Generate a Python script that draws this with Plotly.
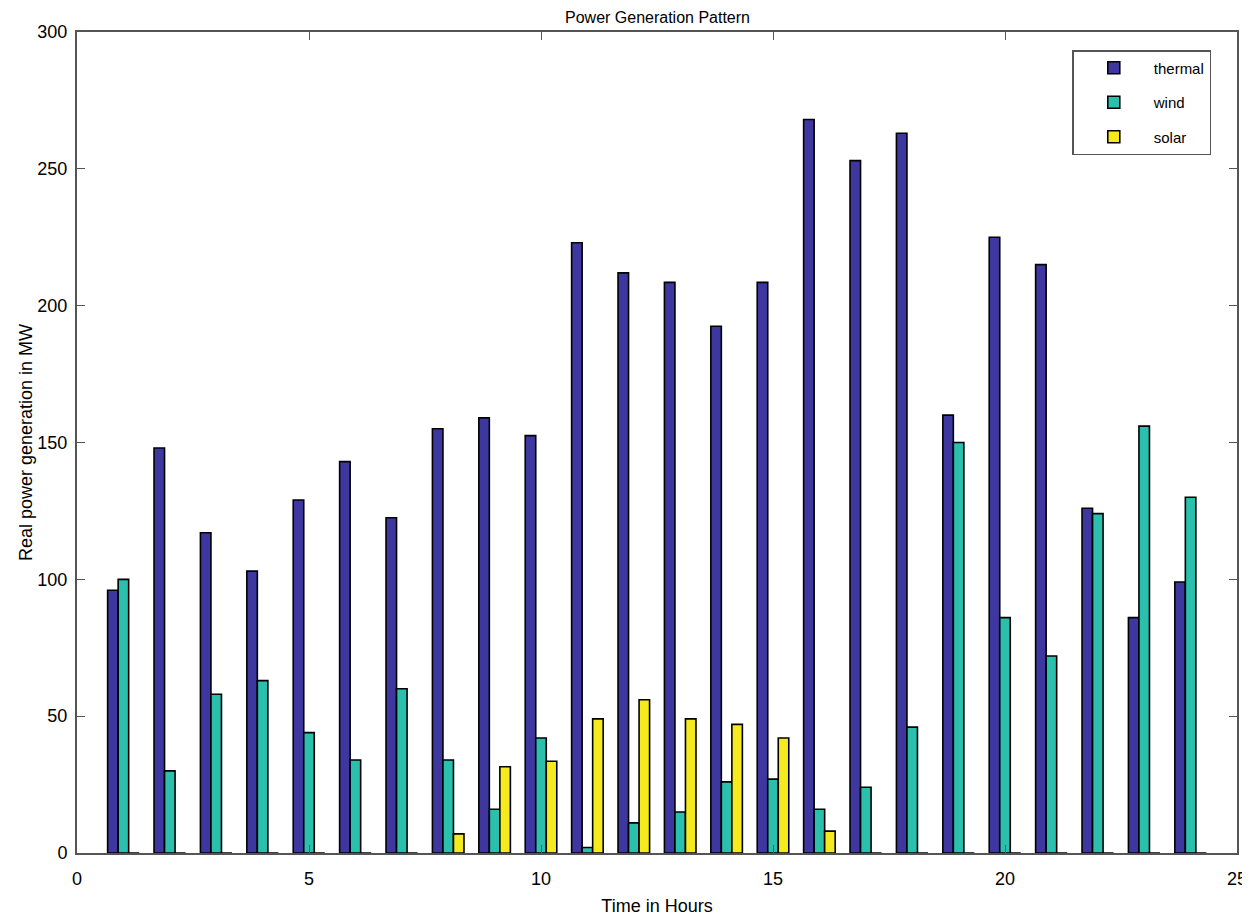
import plotly.graph_objects as go

hours = list(range(1, 25))
thermal = [96, 148, 117, 103, 129, 143, 122.5, 155, 159, 152.5, 223, 212,
           208.5, 192.5, 208.5, 268, 253, 263, 160, 225, 215, 126, 86, 99]
wind = [100, 30, 58, 63, 44, 34, 60, 34, 16, 42, 2, 11,
        15, 26, 27, 16, 24, 46, 150, 86, 72, 124, 156, 130]
solar = [0, 0, 0, 0, 0, 0, 0, 7, 31.5, 33.5, 49, 56,
         49, 47, 42, 8, 0, 0, 0, 0, 0, 0, 0, 0]

series = [("thermal", thermal, "#3f37a0"),
          ("wind", wind, "#2bbfae"),
          ("solar", solar, "#f4ea1e")]

fig = go.Figure()
for name, vals, col in series:
    fig.add_trace(go.Bar(x=hours, y=vals, name=name, legendgroup=name,
                         marker=dict(color=col, line=dict(color="black", width=1.6))))

font = "Liberation Sans Narrow, Liberation Sans, Arial, sans-serif"
W, H = 1242, 908
fig.update_layout(
    width=W, height=H,
    paper_bgcolor="white", plot_bgcolor="white",
    margin=dict(l=69, r=13, t=24, b=H - 845, autoexpand=False),
    barmode="group", bargap=0.32, bargroupgap=0,
    font=dict(family=font, color="black", size=18),
    title=dict(text="Power Generation Pattern", x=(0.5 * (77 + 1238) - 8) / W,
               xanchor="center", y=1 - 9 / H, yanchor="middle",
               font=dict(size=16, family=font)),
    showlegend=True,
    legend=dict(x=0.858, y=1 - 18 / 821, xanchor="left", yanchor="top",
                bgcolor="white", bordercolor="#555", borderwidth=1.5,
                font=dict(size=15, family=font), tracegroupgap=12,
                traceorder="grouped", itemwidth=70),
    xaxis=dict(range=[0, 25], tickvals=[0, 5, 10, 15, 20, 25], ticks="inside",
               ticklen=8, tickcolor="#555", showline=True, linecolor="#555",
               linewidth=2, mirror="ticks", showgrid=False, zeroline=False,
               ticklabelstandoff=8, ticklabeloverflow="allow",
               title=dict(text="Time in Hours", standoff=24, font=dict(size=18))),
    yaxis=dict(range=[0, 300], tickvals=[0, 50, 100, 150, 200, 250, 300], ticks="inside",
               ticklen=8, tickcolor="#555", showline=True, linecolor="#555",
               linewidth=2, mirror="ticks", showgrid=False, zeroline=False,
               ticklabelstandoff=4,
               title=dict(text="Real power generation in MW", standoff=0, font=dict(size=18))),
)

fig.write_html("out.html")
